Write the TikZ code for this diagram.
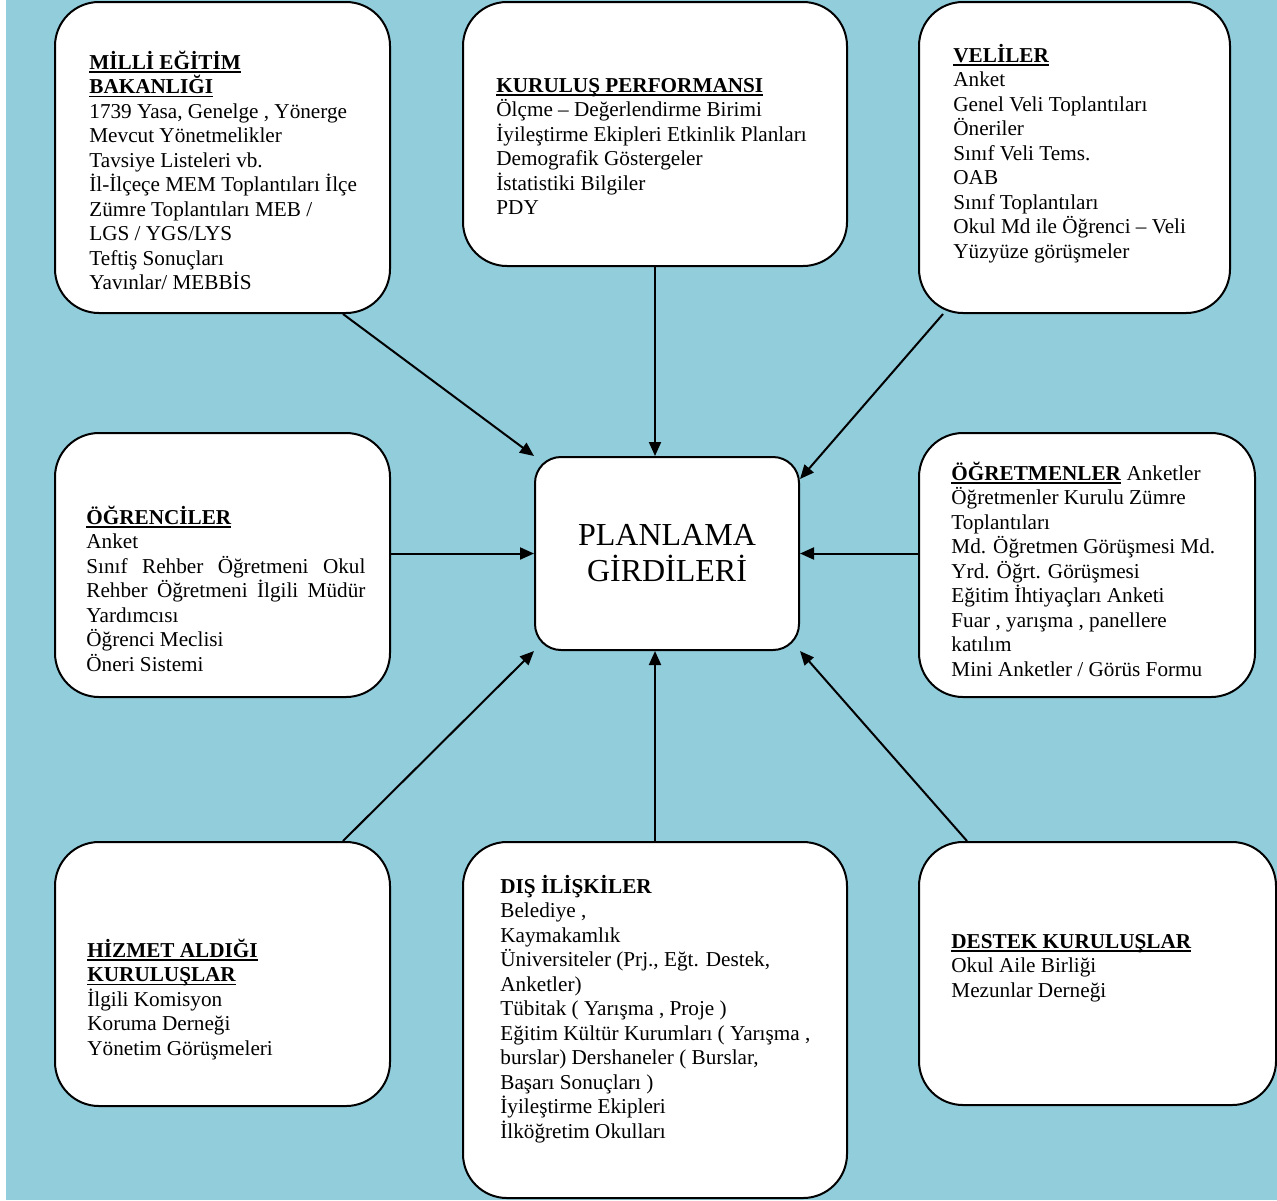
\documentclass[tikz,border=0pt]{standalone}
\usepackage{fontspec}
\setmainfont{Liberation Serif}
\usetikzlibrary{positioning,arrows.meta,calc}

\definecolor{arkaplan}{HTML}{92CDDC}
\newcommand{\baslik}[1]{\leavevmode\setbox0\hbox{\textbf{#1}}\rlap{\rule[-1.8pt]{\wd0}{0.8pt}}\box0\relax}
\newcommand{\kutuyazi}[2]{\parbox[t]{#1}{\raggedright #2}}

\begin{document}
\begin{tikzpicture}[
  x=0.5pt, y=-0.5pt,
  kutu/.style={draw, line width=1pt, fill=white, rounded corners=22pt, inner sep=0pt},
  merkez/.style={kutu, rounded corners=13pt, align=center,
    font=\fontsize{16}{18}\selectfont},
  metin/.style={anchor=base west, inner sep=0pt, font=\fontsize{10.6}{12.25}\selectfont},
  ok/.style={-{Triangle[length=7pt,width=6pt]}, line width=1pt}
]
  % Background
  \fill[white] (0,0) rectangle (1277,1200);
  \fill[arkaplan] (6,0) rectangle (1277,1200);
  \useasboundingbox (0,0) rectangle (1277,1200);

  % Boxes
  \node[kutu, minimum width=167.5pt, minimum height=155.5pt] (meb) at (222.5,157.5) {};
  \node[kutu, minimum width=192pt, minimum height=132pt] (kurulus) at (655,134) {};
  \node[kutu, minimum width=155.5pt, minimum height=155.5pt] (veliler) at (1074.5,157.5) {};
  \node[kutu, minimum width=167.5pt, minimum height=132pt] (ogrenci) at (222.5,565) {};
  \node[merkez, minimum width=132pt, minimum height=96.5pt] (planlama) at (667,553.5) {PLANLAMA\\GİRDİLERİ};
  \node[kutu, minimum width=168pt, minimum height=132pt] (ogretmen) at (1087,565) {};
  \node[kutu, minimum width=167.5pt, minimum height=132pt] (hizmet) at (222.5,974) {};
  \node[kutu, minimum width=192pt, minimum height=178pt] (dis) at (655,1020) {};
  \node[kutu, minimum width=178.5pt, minimum height=131.5pt] (destek) at (1097.5,973.5) {};

  % Texts
  \node[metin] (mebyazi) at (89,69) {\kutuyazi{165pt}{%
    \baslik{MİLLİ EĞİTİM}\\
    \baslik{BAKANLIĞI}\\
    1739 Yasa, Genelge , Yönerge\\
    Mevcut Yönetmelikler\\
    Tavsiye Listeleri vb.\\
    İl-İlçeçe MEM Toplantıları İlçe\\
    Zümre Toplantıları MEB /\\
    LGS / YGS/LYS\\
    Teftiş Sonuçları\\
    Yavınlar/ MEBBİS}};
  \node[metin] (kurulusyazi) at (496,92) {\kutuyazi{180pt}{%
    \baslik{KURULUŞ PERFORMANSI}\\
    Ölçme – Değerlendirme Birimi\\
    İyileştirme Ekipleri Etkinlik Planları\\
    Demografik Göstergeler\\
    İstatistiki Bilgiler\\
    PDY}};
  \node[metin] (veliyazi) at (953,62) {\kutuyazi{150pt}{%
    \baslik{VELİLER}\\
    Anket\\
    Genel Veli Toplantıları\\
    Öneriler\\
    Sınıf Veli Tems.\\
    OAB\\
    Sınıf Toplantıları\\
    Okul Md ile Öğrenci – Veli\\
    Yüzyüze görüşmeler}};
  \node[metin] (ogrenciyazi) at (86,524) {\kutuyazi{150pt}{%
    \baslik{ÖĞRENCİLER}\\
    Anket\\
    \makebox[139.5pt][s]{Sınıf Rehber Öğretmeni Okul}\\
    \makebox[139.5pt][s]{Rehber Öğretmeni İlgili Müdür}\\
    Yardımcısı\\
    Öğrenci Meclisi\\
    Öneri Sistemi}};
  \node[metin] (ogretmenyazi) at (951,480) {\kutuyazi{150pt}{%
    \baslik{ÖĞRETMENLER} Anketler\\
    Öğretmenler Kurulu Zümre\\
    Toplantıları\\
    Md. Öğretmen Görüşmesi Md.\\
    Yrd. Öğrt. Görüşmesi\\
    Eğitim İhtiyaçları Anketi\\
    Fuar , yarışma , panellere\\
    katılım\\
    Mini Anketler / Görüs Formu}};
  \node[metin] (hizmetyazi) at (87,957) {\kutuyazi{150pt}{%
    \baslik{HİZMET ALDIĞI}\\
    \baslik{KURULUŞLAR}\\
    İlgili Komisyon\\
    Koruma Derneği\\
    Yönetim Görüşmeleri}};
  \node[metin] (disyazi) at (500,893) {\kutuyazi{180pt}{%
    \textbf{DIŞ İLİŞKİLER}\\
    Belediye ,\\
    Kaymakamlık\\
    Üniversiteler (Prj., Eğt. Destek,\\
    Anketler)\\
    Tübitak ( Yarışma , Proje )\\
    Eğitim Kültür Kurumları ( Yarışma ,\\
    burslar) Dershaneler ( Burslar,\\
    Başarı Sonuçları )\\
    İyileştirme Ekipleri\\
    İlköğretim Okulları}};
  \node[metin] (destekyazi) at (951,948) {\kutuyazi{160pt}{%
    \baslik{DESTEK KURULUŞLAR}\\
    Okul Aile Birliği\\
    Mezunlar Derneği}};

  % Arrows
  \draw[ok] ([xshift=60.25pt]meb.south) -- (planlama.north west);
  \draw[ok] (kurulus.south) -- (kurulus.south |- planlama.north);
  \draw[ok] ([xshift=-65.75pt]veliler.south) -- ([yshift=-11.5pt]planlama.north east);
  \draw[ok] (ogrenci.east |- planlama.west) -- (planlama.west);
  \draw[ok] (ogretmen.west |- planlama.east) -- (planlama.east);
  \draw[ok] ([xshift=60.25pt]hizmet.north) -- (planlama.south west);
  \draw[ok] (dis.north) -- (dis.north |- planlama.south);
  \draw[ok] ([xshift=-65.25pt]destek.north) -- (planlama.south east);
\end{tikzpicture}
\end{document}
